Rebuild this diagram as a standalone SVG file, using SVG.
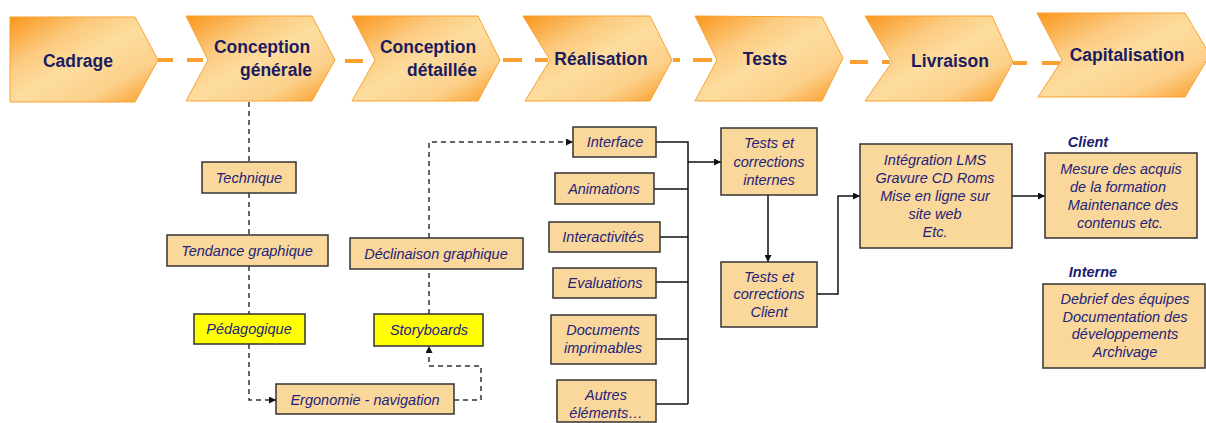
<svg xmlns="http://www.w3.org/2000/svg" width="1206" height="423" viewBox="0 0 1206 423">
  <defs>
    <linearGradient id="chev" x1="0" y1="0" x2="1" y2="1">
      <stop offset="0" stop-color="#F9961C"/>
      <stop offset="0.3" stop-color="#FCCB80"/>
      <stop offset="0.5" stop-color="#FDDD9F"/>
      <stop offset="0.75" stop-color="#FCD08A"/>
      <stop offset="1" stop-color="#F9981F"/>
    </linearGradient>
    <marker id="arr" markerUnits="userSpaceOnUse" markerWidth="7" markerHeight="7" refX="7" refY="3.5" orient="auto">
      <path d="M0,0 L7,3.5 L0,7 z" fill="#111"/>
    </marker>
    <style>
      .chev { fill: url(#chev); stroke: #F9A232; stroke-width: 1; }
      .title { font-family: "Liberation Sans", Arial, sans-serif; font-weight: bold; font-size: 17.5px; fill: #1B1B5E; text-anchor: middle; }
      .phase-link { stroke: #F9A030; stroke-width: 4; fill: none; }
      .box { fill: #FAD79A; stroke: #333; stroke-width: 1.5; }
      .hl { fill: #FFFF00; stroke: #333; stroke-width: 1.5; }
      .lbl { font-family: "Liberation Sans", Arial, sans-serif; font-style: italic; font-size: 14.5px; fill: #23237A; text-anchor: middle; }
      .head { font-family: "Liberation Sans", Arial, sans-serif; font-style: italic; font-weight: bold; font-size: 14.5px; fill: #1B1B6E; text-anchor: middle; }
      .dash { stroke: #333; stroke-width: 1.5; stroke-dasharray: 5 4; fill: none; }
      .solid { stroke: #111; stroke-width: 1.5; fill: none; }
    </style>
  </defs>

  <!-- phase chain -->
  <g id="phase-links">
    <line class="phase-link" x1="158" y1="60" x2="173" y2="60"/>
    <line class="phase-link" x1="187" y1="60" x2="203" y2="60"/>
    <line class="phase-link" x1="345" y1="61" x2="363" y2="61"/>
    <line class="phase-link" x1="503" y1="60" x2="522" y2="60"/>
    <line class="phase-link" x1="535" y1="60" x2="548" y2="60"/>
    <line class="phase-link" x1="673" y1="60" x2="680" y2="60"/>
    <line class="phase-link" x1="693" y1="60" x2="712" y2="60"/>
    <line class="phase-link" x1="850" y1="62" x2="868" y2="62"/>
    <line class="phase-link" x1="882" y1="62" x2="890" y2="62"/>
    <line class="phase-link" x1="1013" y1="63" x2="1027" y2="63"/>
    <line class="phase-link" x1="1042" y1="63" x2="1060" y2="63"/>
  </g>

  <g id="cadrage">
    <polygon class="chev" points="10,17 135,17 158,60 135,102 10,102"/>
    <text class="title" x="78" y="67">Cadrage</text>
  </g>
  <g id="conception-generale">
    <polygon class="chev" points="186,16 312,16 335,60 312,101 186,101 208,60"/>
    <text class="title" x="262" y="53">Conception</text>
    <text class="title" x="276" y="76">générale</text>
  </g>
  <g id="conception-detaillee">
    <polygon class="chev" points="352,16 478,16 500,60 478,101 352,101 375,60"/>
    <text class="title" x="428" y="53">Conception</text>
    <text class="title" x="442" y="76">détaillée</text>
  </g>
  <g id="realisation">
    <polygon class="chev" points="523,16 650,16 672,60 650,101 525,101 550,60"/>
    <text class="title" x="601" y="65">Réalisation</text>
  </g>
  <g id="tests">
    <polygon class="chev" points="695,16 822,17 843,58 822,101 695,101 717,60"/>
    <text class="title" x="765" y="65">Tests</text>
  </g>
  <g id="livraison">
    <polygon class="chev" points="865,16 992,16 1013,62 992,101 865,101 892,62"/>
    <text class="title" x="950" y="67">Livraison</text>
  </g>
  <g id="capitalisation">
    <polygon class="chev" points="1037,13 1185,13 1210,55 1185,97 1038,97 1062,60"/>
    <text class="title" x="1127" y="61">Capitalisation</text>
  </g>

  <!-- connectors -->
  <g id="connectors">
    <line class="dash" x1="249" y1="102" x2="249" y2="162"/>
    <line class="dash" x1="249" y1="193" x2="249" y2="235"/>
    <line class="dash" x1="249" y1="266" x2="249" y2="314"/>
    <path class="dash" d="M249,344 V400 H276" marker-end="url(#arr)"/>
    <path class="dash" d="M454,400 H481 V366 H429 V346" marker-end="url(#arr)"/>
    <line class="dash" x1="429" y1="314" x2="429" y2="269"/>
    <path class="dash" d="M429,238 V142 H573" marker-end="url(#arr)"/>

    <path class="solid" d="M656,142 H688 V404"/>
    <line class="solid" x1="654" y1="189" x2="688" y2="189"/>
    <line class="solid" x1="655" y1="237" x2="688" y2="237"/>
    <line class="solid" x1="656" y1="282" x2="688" y2="282"/>
    <line class="solid" x1="656" y1="339" x2="688" y2="339"/>
    <line class="solid" x1="656" y1="404" x2="688" y2="404"/>
    <path class="solid" d="M688,162 H721" marker-end="url(#arr)"/>
    <path class="solid" d="M768,195 V262" marker-end="url(#arr)"/>
    <path class="solid" d="M817,294 H838 V196 H860" marker-end="url(#arr)"/>
    <path class="solid" d="M1012,196 H1045" marker-end="url(#arr)"/>
  </g>

  <!-- design branch -->
  <g id="technique">
    <rect class="box" x="202" y="162" width="94" height="31"/>
    <text class="lbl" x="249" y="183">Technique</text>
  </g>
  <g id="tendance-graphique">
    <rect class="box" x="167" y="235" width="161" height="31"/>
    <text class="lbl" x="247" y="256">Tendance graphique</text>
  </g>
  <g id="pedagogique">
    <rect class="hl" x="194" y="314" width="111" height="30"/>
    <text class="lbl" x="249" y="334">Pédagogique</text>
  </g>
  <g id="ergonomie">
    <rect class="box" x="276" y="384" width="178" height="30"/>
    <text class="lbl" x="365" y="405">Ergonomie - navigation</text>
  </g>
  <g id="storyboards">
    <rect class="hl" x="374" y="314" width="109" height="32"/>
    <text class="lbl" x="429" y="335">Storyboards</text>
  </g>
  <g id="declinaison-graphique">
    <rect class="box" x="350" y="238" width="173" height="31"/>
    <text class="lbl" x="436" y="259">Déclinaison graphique</text>
  </g>

  <!-- production items -->
  <g id="interface">
    <rect class="box" x="573" y="127" width="83" height="30"/>
    <text class="lbl" x="615" y="147">Interface</text>
  </g>
  <g id="animations">
    <rect class="box" x="555" y="173" width="99" height="31"/>
    <text class="lbl" x="604" y="194">Animations</text>
  </g>
  <g id="interactivites">
    <rect class="box" x="549" y="222" width="111" height="30"/>
    <text class="lbl" x="603" y="242">Interactivités</text>
  </g>
  <g id="evaluations">
    <rect class="box" x="553" y="268" width="103" height="30"/>
    <text class="lbl" x="605" y="288">Evaluations</text>
  </g>
  <g id="documents">
    <rect class="box" x="551" y="315" width="105" height="49"/>
    <text class="lbl" x="603" y="335">Documents</text>
    <text class="lbl" x="603" y="353">imprimables</text>
  </g>
  <g id="autres">
    <rect class="box" x="557" y="380" width="99" height="42"/>
    <text class="lbl" x="606" y="400">Autres</text>
    <text class="lbl" x="606" y="418">éléments…</text>
  </g>

  <!-- testing -->
  <g id="tests-internes">
    <rect class="box" x="721" y="128" width="96" height="67"/>
    <text class="lbl" x="769" y="148">Tests et</text>
    <text class="lbl" x="769" y="167">corrections</text>
    <text class="lbl" x="769" y="185">internes</text>
  </g>
  <g id="tests-client">
    <rect class="box" x="721" y="262" width="96" height="65"/>
    <text class="lbl" x="769" y="282">Tests et</text>
    <text class="lbl" x="769" y="299">corrections</text>
    <text class="lbl" x="769" y="317">Client</text>
  </g>

  <!-- delivery -->
  <g id="integration">
    <rect class="box" x="860" y="144" width="152" height="104"/>
    <text class="lbl" x="935" y="165">Intégration LMS</text>
    <text class="lbl" x="935" y="183">Gravure CD Roms</text>
    <text class="lbl" x="935" y="201">Mise en ligne sur</text>
    <text class="lbl" x="935" y="219">site web</text>
    <text class="lbl" x="935" y="237">Etc.</text>
  </g>

  <!-- capitalisation -->
  <g id="capitalisation-client">
    <text class="head" x="1088" y="147">Client</text>
    <rect class="box" x="1045" y="153" width="152" height="85"/>
    <text class="lbl" x="1121" y="174">Mesure des acquis</text>
    <text class="lbl" x="1118" y="192">de la formation</text>
    <text class="lbl" x="1123" y="210">Maintenance des</text>
    <text class="lbl" x="1120" y="228">contenus etc.</text>
  </g>
  <g id="capitalisation-interne">
    <text class="head" x="1093" y="277">Interne</text>
    <rect class="box" x="1043" y="284" width="162" height="84"/>
    <text class="lbl" x="1125" y="304">Debrief des équipes</text>
    <text class="lbl" x="1125" y="322">Documentation des</text>
    <text class="lbl" x="1125" y="339">développements</text>
    <text class="lbl" x="1125" y="357">Archivage</text>
  </g>
</svg>
